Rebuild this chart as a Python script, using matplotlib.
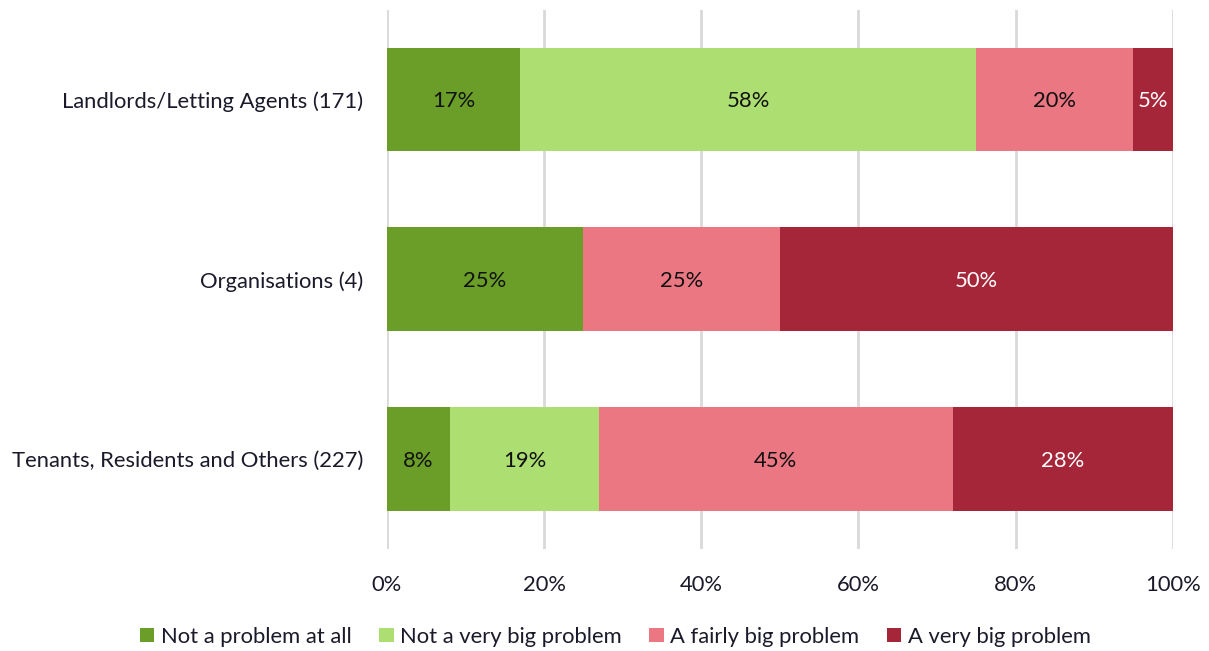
import matplotlib
matplotlib.use("Agg")
import matplotlib.pyplot as plt
from matplotlib.ticker import FuncFormatter

categories = ["Landlords/Letting Agents (171)", "Organisations (4)", "Tenants, Residents and Others (227)"]
series_names = ["Not a problem at all", "Not a very big problem", "A fairly big problem", "A very big problem"]
not_a_problem = [17, 25, 8]
not_very_big = [58, 0, 19]
fairly_big = [20, 25, 45]
very_big = [5, 50, 28]
x_ticks = [0, 20, 40, 60, 80, 100]

colors = ["#6A9E28", "#ADDE72", "#EA7782", "#A52638"]
text_colors = ["#111111", "#111111", "#111111", "#ffffff"]

FS = 15.8
plt.rcParams['font.family'] = ['Lato', 'DejaVu Sans']
fig = plt.figure(figsize=(12.09, 6.51), dpi=100)
ax = fig.add_axes([0.320, 0.157, 0.650, 0.828])

series = [not_a_problem, not_very_big, fairly_big, very_big]
ypos = list(range(len(categories)))
left = [0] * len(categories)
for vals, name, c, tc in zip(series, series_names, colors, text_colors):
    bars = ax.barh(ypos, vals, left=left, height=0.577, color=c, label=name, zorder=3)
    for b, v in zip(bars, vals):
        if v > 0:
            ax.text(b.get_x() + b.get_width() / 2, b.get_y() + b.get_height() / 2 + 0.01,
                    f"{v}%", ha="center", va="center", color=tc, fontsize=FS, zorder=4)
    left = [l + v for l, v in zip(left, vals)]

ax.set_xlim(0, 100)
ax.set_ylim(2.5, -0.5)
ax.set_yticks(ypos)
ax.set_yticklabels(categories, fontsize=FS, color="#1a1a2a")
ax.set_xticks(x_ticks)
ax.xaxis.set_major_formatter(FuncFormatter(lambda v, p: f"{int(v)}%"))
ax.tick_params(axis='x', labelsize=FS, labelcolor="#1a1a2a", length=0, pad=19)
ax.tick_params(axis='y', length=0, pad=17)
ax.grid(axis='x', color="#d9d9d9", linewidth=2, zorder=0)
for s in ax.spines.values():
    s.set_visible(False)

handles, labels = ax.get_legend_handles_labels()
fig.legend(handles, labels, loc="center", bbox_to_anchor=(0.509, 0.022), ncol=4, frameon=False,
           fontsize=FS, handlelength=0.65, handleheight=0.65, handletextpad=0.3, columnspacing=1.25,
           labelcolor="#1a1a2a")

fig.savefig("out.png", dpi=100)
